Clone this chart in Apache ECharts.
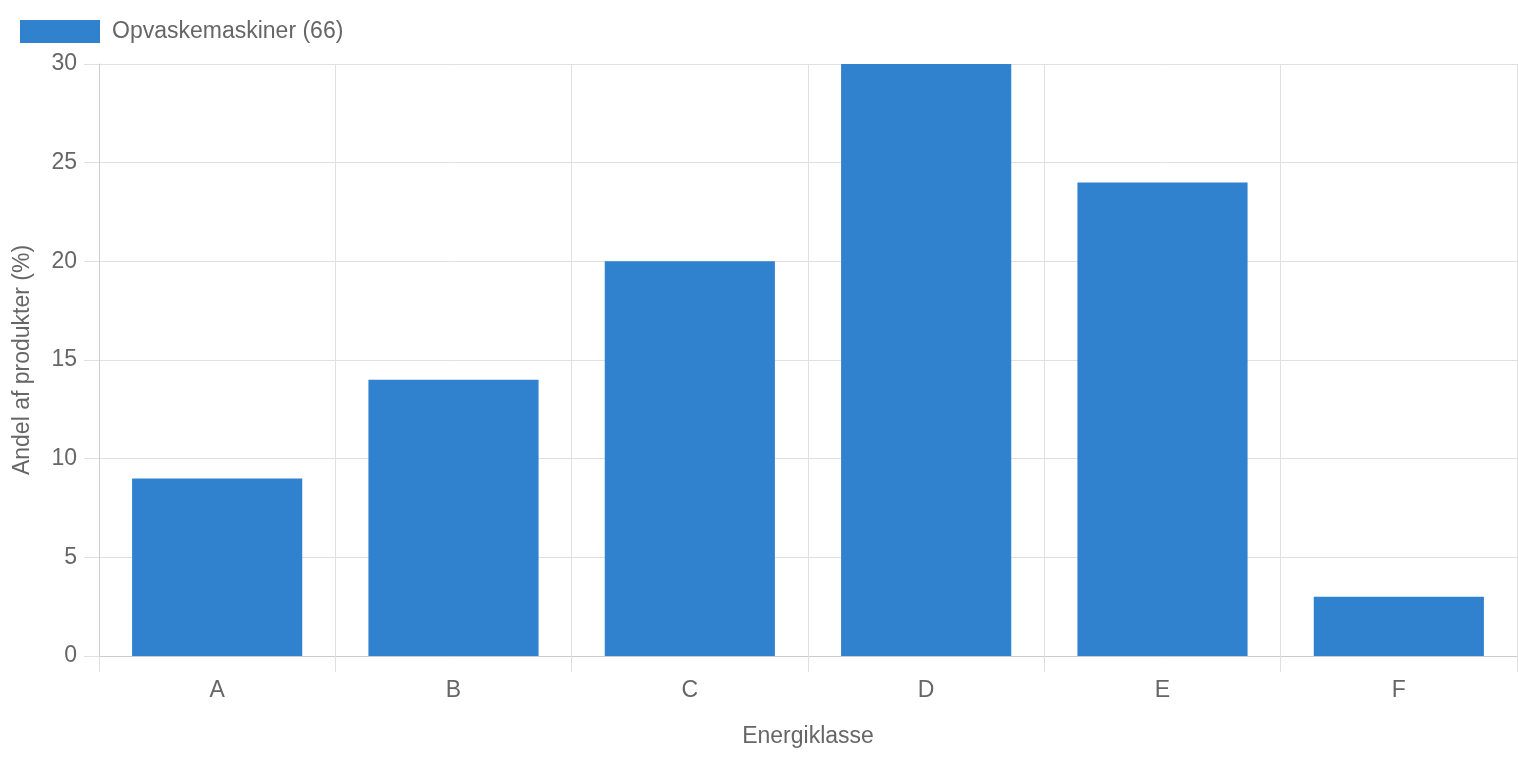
<!DOCTYPE html>
<html>
<head>
<meta charset="utf-8">
<script src="https://cdn.jsdelivr.net/npm/echarts@6/dist/echarts.min.js"></script>
<style>
html,body{margin:0;padding:0;background:#fff;}
#chart{width:1518px;height:758px;}
</style>
</head>
<body>
<div id="chart"></div>
<script>
const categories = ['A', 'B', 'C', 'D', 'E', 'F'];
const seriesName = 'Opvaskemaskiner (66)';
const values = [9, 14, 20, 30, 24, 3];
const yTicks = [0, 5, 10, 15, 20, 25, 30];

const FONT = '"Liberation Sans", Helvetica, Arial, sans-serif';
const FS = 23;
const chart = echarts.init(document.getElementById('chart'));
chart.setOption({
  animation: false,
  textStyle: { fontFamily: FONT },
  legend: {
    left: 20, top: 20, padding: 0,
    itemWidth: 80, itemHeight: 23, itemGap: 10,
    icon: 'rect',
    textStyle: { color: '#666', fontSize: FS, fontFamily: FONT, padding: [0, 0, 0, 7] },
    data: [seriesName]
  },
  grid: { left: 99, right: 1, top: 64, bottom: 102, containLabel: false },
  xAxis: {
    type: 'category',
    data: categories,
    name: 'Energiklasse',
    nameLocation: 'middle',
    nameGap: 69,
    nameTextStyle: { color: '#666', fontSize: FS, fontFamily: FONT },
    axisLine: { lineStyle: { color: '#ccc', width: 1 } },
    axisTick: { show: true, length: 16, lineStyle: { color: '#e0e0e0' } },
    axisLabel: { color: '#666', fontSize: FS, margin: 23, fontFamily: FONT },
    splitLine: { show: true, lineStyle: { color: '#e0e0e0', width: 1 } }
  },
  yAxis: {
    type: 'value',
    min: yTicks[0], max: yTicks[yTicks.length - 1], interval: 5,
    name: 'Andel af produkter (%)',
    nameLocation: 'middle',
    nameGap: 65,
    nameTextStyle: { color: '#666', fontSize: FS, fontFamily: FONT },
    axisLine: { show: true, lineStyle: { color: '#ccc', width: 1 } },
    axisTick: { show: true, length: 15, lineStyle: { color: '#e0e0e0' } },
    axisLabel: { color: '#666', fontSize: FS, margin: 22, fontFamily: FONT },
    splitLine: { show: true, lineStyle: { color: '#e0e0e0', width: 1 } }
  },
  series: [{
    name: seriesName,
    type: 'bar',
    data: values,
    barCategoryGap: '28%',
    itemStyle: { color: '#3182ce' }
  }]
});
</script>
</body>
</html>
